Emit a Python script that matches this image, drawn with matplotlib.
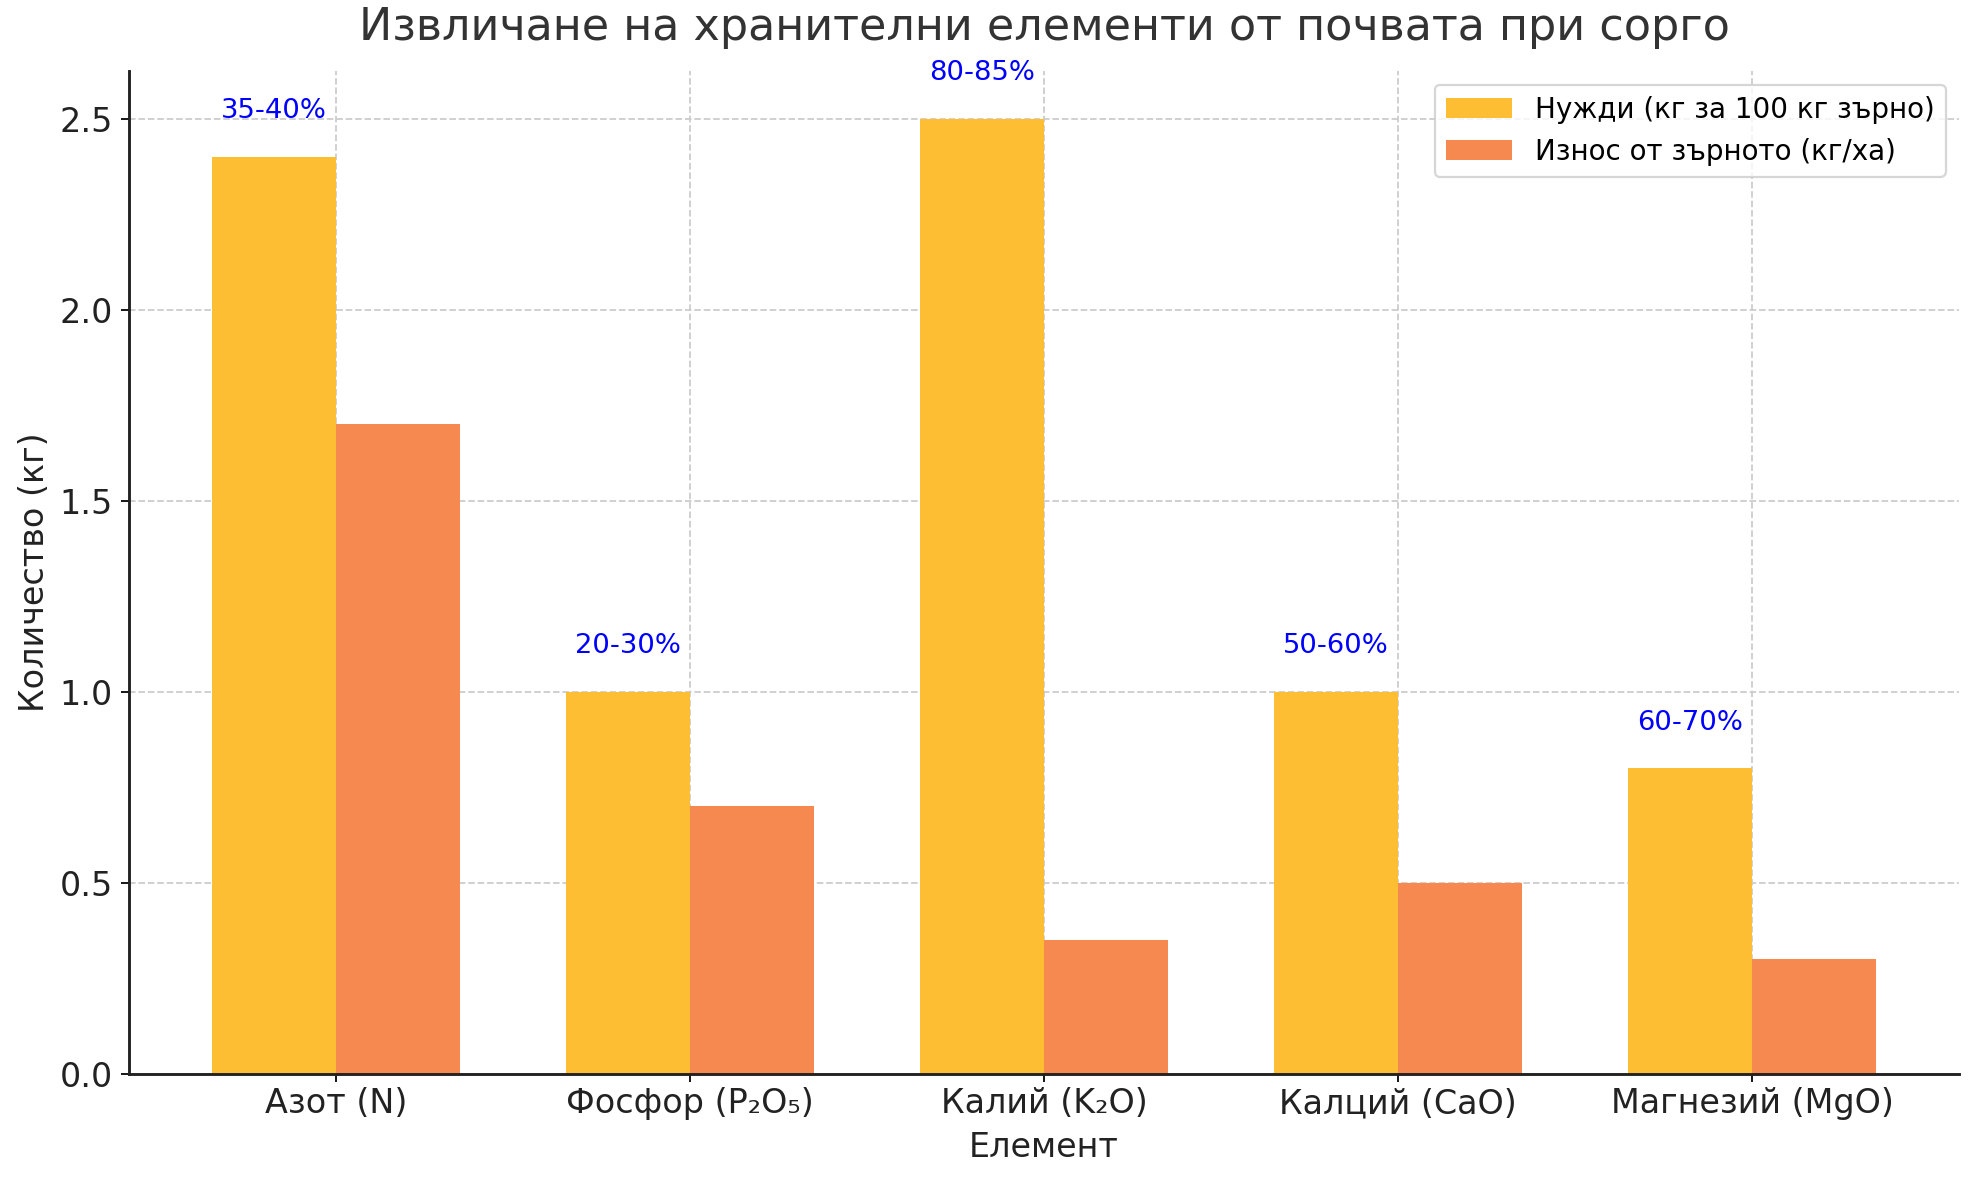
import numpy as np
import matplotlib.pyplot as plt

# данни
elements = ["Азот (N)", "Фосфор (P₂O₅)", "Калий (K₂O)", "Калций (CaO)", "Магнезий (MgO)"]
needs = [2.4, 1.0, 2.5, 1.0, 0.8]
removal = [1.7, 0.7, 0.35, 0.5, 0.3]
extraction = ["35-40%", "20-30%", "80-85%", "50-60%", "60-70%"]

plt.rcParams['font.family'] = ['DejaVu Sans', 'Noto Sans']

x = np.arange(len(elements))
width = 0.35

fig, ax = plt.subplots(figsize=(12.37, 7.375), dpi=160)
fig.subplots_adjust(left=0.065, right=0.99, top=0.94, bottom=0.09)

ax.bar(x - width / 2, needs, width, label="Нужди (кг за 100 кг зърно)", color="#FDBE33")
ax.bar(x + width / 2, removal, width, label="Износ от зърното (кг/ха)", color="#F5894F")

# проценти над жълтите колони
for i, txt in enumerate(extraction):
    ax.text(x[i] - width / 2, needs[i] + 0.085, txt, ha="center", va="bottom",
            color="blue", fontsize=12.3)

ax.set_title("Извличане на хранителни елементи от почвата при сорго", fontsize=20,
             color="#333333", pad=14)
ax.set_xlabel("Елемент", fontsize=15, color="#222222", labelpad=5)
ax.set_ylabel("Количество (кг)", fontsize=15, color="#222222")
ax.set_xticks(x)
ax.set_xticklabels(elements, fontsize=15, color="#222222")
ax.tick_params(axis="x", pad=2.5)
ax.tick_params(axis="y", labelsize=15, labelcolor="#222222")
ax.grid(True, linestyle="--", color="#cccccc", linewidth=0.8)
ax.set_axisbelow(True)
for s in ["top", "right"]:
    ax.spines[s].set_visible(False)
for s in ["left", "bottom"]:
    ax.spines[s].set_color("#222222")
    ax.spines[s].set_linewidth(1.3)
ax.legend(fontsize=12.5, loc="upper right", handlelength=2.4)

fig.savefig("out.png", dpi=160)
